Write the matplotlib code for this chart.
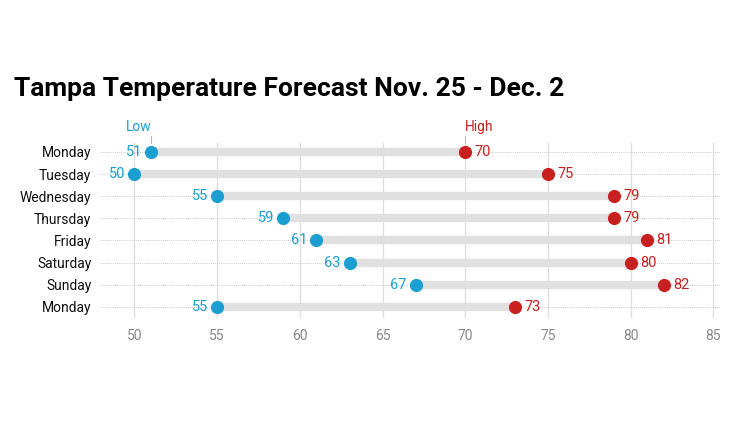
import matplotlib.pyplot as plt
plt.switch_backend('agg')

days = ['Monday', 'Tuesday', 'Wednesday', 'Thursday', 'Friday',
        'Saturday', 'Sunday', 'Monday']
low = [51, 50, 55, 59, 61, 63, 67, 55]
high = [70, 75, 79, 79, 81, 80, 82, 73]
x_ticks = [50, 55, 60, 65, 70, 75, 80, 85]

blue = '#1a9fd0'
red = '#c8201e'

plt.rcParams['font.family'] = ['Roboto', 'DejaVu Sans']

fig = plt.figure(figsize=(7.5, 4.25), dpi=100)
ax = fig.add_axes([0.133, 0.252, 0.827, 0.412])

rows = list(range(len(days)))
ax.set_xlim(47.9, 85.4)
ax.set_ylim(7.5, -0.41)

# grid
for xt in x_ticks:
  ax.axvline(xt, color='#dddddd', linewidth=0.9, zorder=0)
for r in rows:
  ax.axhline(r, color='#bbbbbb', linewidth=0.6, linestyle=(0, (1, 1.5)), zorder=1)

# bars and dots
for r, lo, hi in zip(rows, low, high):
  ax.plot([lo, hi], [r, r], color='#e0e0e0', linewidth=6, solid_capstyle='butt', zorder=2)
ax.scatter(low, rows, s=90, color=blue, zorder=3, linewidths=0)
ax.scatter(high, rows, s=90, color=red, zorder=3, linewidths=0)

for r, lo, hi in zip(rows, low, high):
  ax.text(lo - 0.55, r, str(lo), color=blue, fontsize=10.5, ha='right', va='center', zorder=4)
  ax.text(hi + 0.55, r, str(hi), color=red, fontsize=10.5, ha='left', va='center', zorder=4)

# series labels
ax.plot([low[0], low[0]], [-0.42, -0.72], color='#e8a0a0', linewidth=0.8, clip_on=False)
ax.plot([high[0], high[0]], [-0.42, -0.72], color='#bbbbbb', linewidth=0.8, clip_on=False)
ax.text(low[0], -0.82, 'Low', color=blue, fontsize=10, ha='right', va='bottom')
ax.text(high[0], -0.82, 'High', color=red, fontsize=10, ha='left', va='bottom')

ax.set_yticks(rows)
ax.set_yticklabels(days, fontsize=10, color='#111111')
ax.set_xticks(x_ticks)
ax.set_xticklabels([str(t) for t in x_ticks], fontsize=10, color='#888888')
ax.tick_params(axis='both', length=0)
ax.tick_params(axis='y', pad=6)
ax.tick_params(axis='x', pad=8)
for sp in ax.spines.values():
  sp.set_visible(False)

fig.text(0.019, 0.775, 'Tampa Temperature Forecast Nov. 25 - Dec. 2',
         fontsize=19, fontweight='bold', color='black', ha='left', va='baseline')

plt.savefig('out.png', dpi=100)
